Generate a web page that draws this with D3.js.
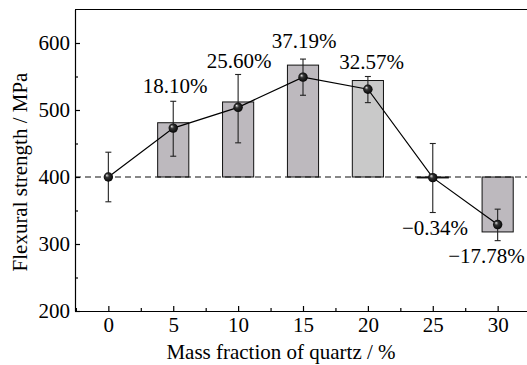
<!DOCTYPE html>
<html>
<head>
<meta charset="utf-8">
<script src="https://cdn.jsdelivr.net/npm/d3@7"></script>
<style>
  body { margin: 0; background: #fff; }
  svg text { font-family: "Liberation Serif", "Times New Roman", "DejaVu Serif", serif; fill: #000; }
</style>
</head>
<body>
<div id="chart"></div>
<script>
// mass fraction of quartz (%)
const massFraction = [0, 5, 10, 15, 20, 25, 30];
// flexural strength (MPa) and error bars
const strength = [400, 473, 504, 549, 531, 399, 329];
const errLow = [363, 431, 451, 522, 511, 347, 305];
const errHigh = [437, 513, 553, 576, 550, 450, 352];
// bar tops, measured from the 400 MPa reference
const barX = [5, 10, 15, 20, 25, 30];
const barTop = [481, 512, 567, 544, 398.6, 318];
const barFill = ['#bdb9be', '#bdb9be', '#bdb9be', '#c9c9c9', '#bdb9be', '#bdb9be'];
// percentage change labels
const labelText = ['18.10%', '25.60%', '37.19%', '32.57%', '\u22120.34%', '\u221217.78%'];
const labelPos = [[175, 93], [239, 68], [304, 47.5], [371.5, 68.5], [435, 235], [486.5, 263]];
const baseline = 400;

const serif = '"Liberation Serif", "Times New Roman", serif';
const width = 527, height = 365;
const margin = { top: 9.5, right: 0, bottom: 54, left: 75 };
const plotBottom = height - margin.bottom;

const svg = d3.select('#chart').append('svg')
    .attr('width', width)
    .attr('height', height);

const x = d3.scaleLinear().domain([-2.57, 32.3]).range([margin.left, 527.5]);
const y = d3.scaleLinear().domain([200, 650]).range([plotBottom, margin.top]);

const defs = svg.append('defs');
const grad = defs.append('radialGradient')
    .attr('id', 'ball')
    .attr('cx', '50%').attr('cy', '50%').attr('r', '55%')
    .attr('fx', '32%').attr('fy', '30%');
grad.append('stop').attr('offset', '0%').attr('stop-color', '#e8e8e8');
grad.append('stop').attr('offset', '35%').attr('stop-color', '#333');
grad.append('stop').attr('offset', '100%').attr('stop-color', '#000');

// bars
const barW = x(2.4) - x(0);
svg.append('g')
    .selectAll('rect')
    .data(barX)
    .join('rect')
    .attr('x', d => x(d) - barW / 2)
    .attr('y', (d, i) => y(Math.max(barTop[i], baseline)))
    .attr('width', barW)
    .attr('height', (d, i) => Math.abs(y(barTop[i]) - y(baseline)))
    .attr('fill', (d, i) => barFill[i])
    .attr('stroke', '#111')
    .attr('stroke-width', 1);

// 400 MPa reference
svg.append('line')
    .attr('x1', margin.left).attr('x2', width)
    .attr('y1', y(baseline)).attr('y2', y(baseline))
    .attr('stroke', '#111')
    .attr('stroke-width', 1.1)
    .attr('stroke-dasharray', '6,4');

// error bars
const err = svg.append('g').attr('stroke', '#222').attr('stroke-width', 1.1);
massFraction.forEach((m, i) => {
    err.append('line')
        .attr('x1', x(m)).attr('x2', x(m))
        .attr('y1', y(errLow[i])).attr('y2', y(errHigh[i]));
    [errLow[i], errHigh[i]].forEach(v => {
        err.append('line')
            .attr('x1', x(m) - 3).attr('x2', x(m) + 3)
            .attr('y1', y(v)).attr('y2', y(v));
    });
});

// line + markers
svg.append('path')
    .datum(massFraction.map((m, i) => [m, strength[i]]))
    .attr('fill', 'none')
    .attr('stroke', '#000')
    .attr('stroke-width', 1.2)
    .attr('d', d3.line().x(d => x(d[0])).y(d => y(d[1])));

svg.append('g')
    .selectAll('circle')
    .data(massFraction)
    .join('circle')
    .attr('cx', d => x(d))
    .attr('cy', (d, i) => y(strength[i]))
    .attr('r', 4.7)
    .attr('fill', 'url(#ball)');

// labels
svg.append('g')
    .selectAll('text')
    .data(labelText)
    .join('text')
    .attr('x', (d, i) => labelPos[i][0])
    .attr('y', (d, i) => labelPos[i][1])
    .attr('text-anchor', 'middle')
    .attr('font-family', serif)
    .attr('font-size', 21)
    .text(d => d);

// axes
svg.append('g')
    .attr('transform', `translate(0,${plotBottom})`)
    .call(d3.axisBottom(x).tickValues(massFraction).tickSizeInner(-5).tickSizeOuter(0).tickPadding(6));
svg.append('g')
    .attr('transform', `translate(0,${plotBottom})`)
    .call(d3.axisBottom(x).tickValues([-2.5, 2.5, 7.5, 12.5, 17.5, 22.5, 27.5]).tickSizeInner(-3).tickSizeOuter(0).tickFormat(''))
    .select('.domain').remove();

svg.append('g')
    .attr('transform', `translate(${margin.left},0)`)
    .call(d3.axisLeft(y).tickValues([200, 300, 400, 500, 600]).tickSizeInner(-5).tickSizeOuter(0).tickPadding(5));
svg.append('g')
    .attr('transform', `translate(${margin.left},0)`)
    .call(d3.axisLeft(y).tickValues([250, 350, 450, 550]).tickSizeInner(-3).tickSizeOuter(0).tickFormat(''))
    .select('.domain').remove();

svg.selectAll('g').attr('font-family', serif);
svg.selectAll('.tick text')
    .attr('font-size', 21)
    .attr('font-family', serif);
svg.selectAll('.domain, .tick line').attr('stroke', '#000').attr('stroke-width', 1.2);

// top spine
svg.append('line')
    .attr('x1', margin.left).attr('x2', width)
    .attr('y1', margin.top).attr('y2', margin.top)
    .attr('stroke', '#000').attr('stroke-width', 1.2);

// axis titles
svg.append('text')
    .attr('x', 281).attr('y', 359)
    .attr('text-anchor', 'middle')
    .attr('font-family', serif)
    .attr('font-size', 21)
    .text('Mass fraction of quartz / %');

svg.append('text')
    .attr('transform', 'translate(27,172) rotate(-90)')
    .attr('text-anchor', 'middle')
    .attr('font-family', serif)
    .attr('font-size', 21)
    .text('Flexural strength / MPa');
</script>
</body>
</html>
